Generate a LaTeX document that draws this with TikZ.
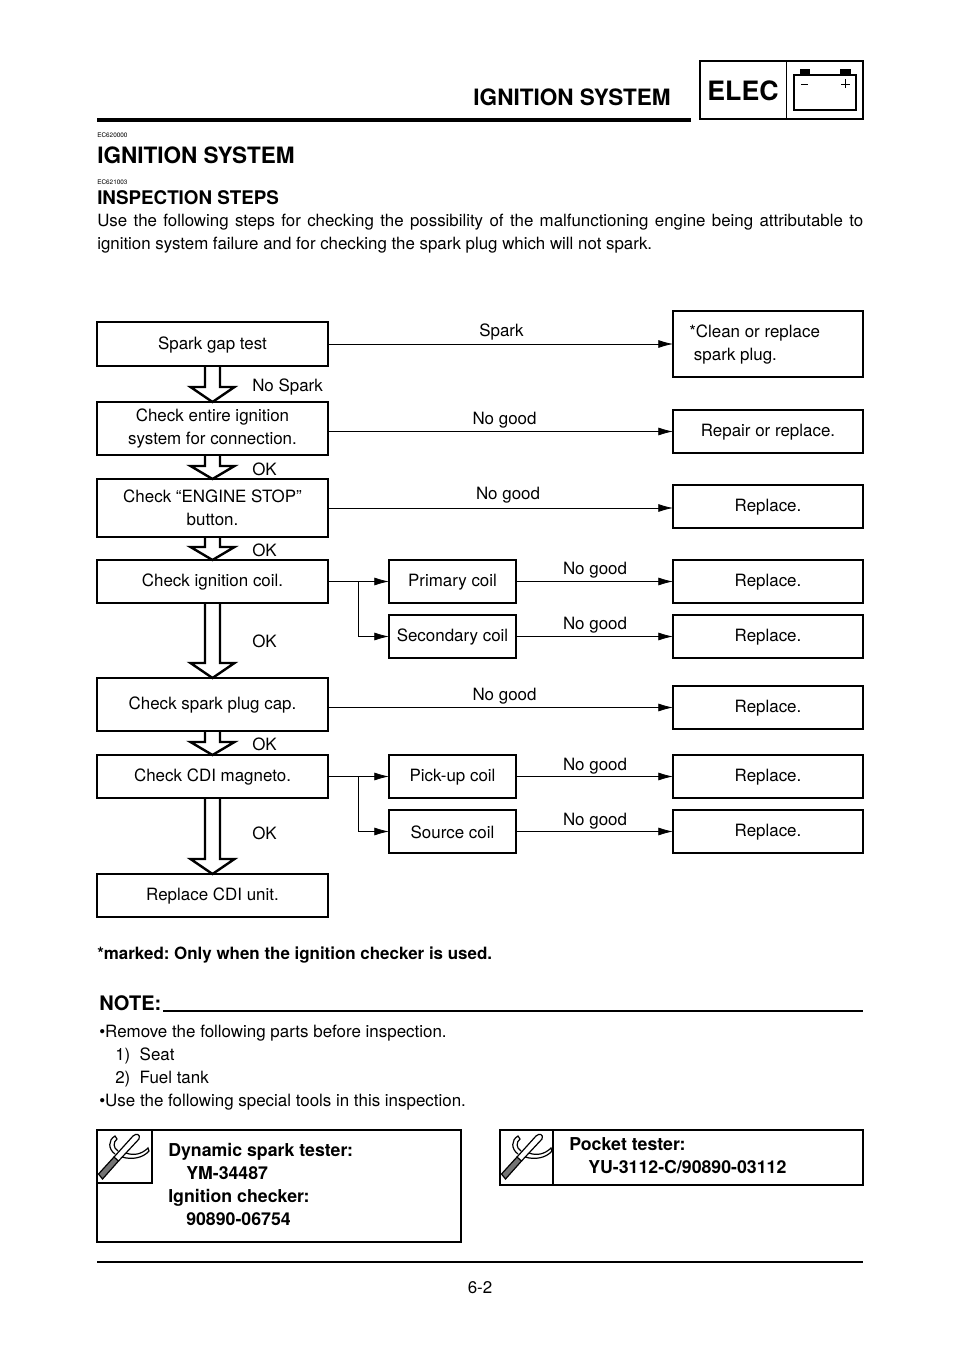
\documentclass[tikz,border=0pt]{standalone}
\usepackage{fontspec}
\setmainfont{TeX Gyre Heros}
\usepackage{tikz}
\usetikzlibrary{positioning, calc, arrows.meta}
\frenchspacing

\tikzset{
  stepbox/.style={draw, line width=1.7pt, inner sep=0pt, outer sep=0pt, align=center, font=\fontsize{12.7}{17.25}\selectfont, execute at begin node={\rule{0pt}{11pt}}},
  wide/.style={stepbox, minimum width=173.25pt},
  part/.style={stepbox, minimum width=95.25pt, minimum height=32.25pt},
  result/.style={stepbox, minimum width=142.5pt, minimum height=32.25pt},
  lab/.style={font=\fontsize{12.7}{17.25}\selectfont, inner sep=0pt},
  txt/.style={font=\fontsize{12.7}{17.25}\selectfont, inner sep=0pt, anchor=base west},
  tool/.style={font=\fontsize{13.3}{17.25}\selectfont\bfseries, inner sep=0pt, anchor=base west},
  tiny/.style={font=\fontsize{4.8}{6}\selectfont, inner sep=0pt, anchor=base west},
  toolbox/.style={draw, line width=1.6pt, anchor=north west, inner sep=0pt, outer sep=0pt},
  conn/.style={line width=0.6pt, -{Latex[length=11pt,width=6pt]}},
  bigarrow/.style={line width=1.8pt, line join=miter},
  rulebar/.style={line width=2.3pt},
  thinbar/.style={line width=1.9pt}
}

% open block arrow between two step boxes
\newcommand{\okarrow}[3]{
  \draw[bigarrow] ($(#1.south)+(-7.5,0)$) -- ($(#2.north)+(-7.5,-#3)$) -- ++(-14.5,0)
    -- (#2.north) -- ($(#2.north)+(22,-#3)$) -- ++(-14.5,0) -- ($(#1.south)+(7.5,0)$);
}
% tester icon with its corner at (#1)
\newcommand{\toolicon}[1]{
  \begin{scope}[shift={(#1)}, line width=0.9pt]
    \draw[fill=black!55] (1.5,44) -- (5.5,49) -- (21.5,31) -- (17,27) -- cycle;
    \draw (17,27) -- (36,6) .. controls (39,3) and (44,4) .. (42,9) -- (21.5,31);
    \draw (18,24) .. controls (11,19) and (11,10) .. (18,6) -- (20,9) .. controls (16,12) and (16,18) .. (21,21);
    \draw (29,23) .. controls (37,26) and (45,24) .. (51,18) -- (52,21) .. controls (46,28) and (35,30) .. (25,27);
  \end{scope}
}

\begin{document}
\begin{tikzpicture}[x=0.75pt, y=-0.75pt]
\useasboundingbox (0,0) rectangle (960,1358);

% header
\node[inner sep=0pt, anchor=base east, font=\fontsize{16.9}{20}\selectfont\bfseries] (head) at (671,106) {IGNITION SYSTEM};
\coordinate (headl) at (97,120);
\coordinate (headr) at (691,120);
\draw[rulebar] (headl) -- (headr);
\node[toolbox, minimum width=122.25pt, minimum height=43.5pt] (elec) at (700,61) {};
\coordinate (divt) at (786,61);
\coordinate (divb) at (786,119);
\draw[line width=0.7pt] (divt) -- (divb);
\node[inner sep=0pt, anchor=base, font=\fontsize{20}{24}\selectfont\bfseries] (electxt) at (743,101) {ELEC};
\draw[line width=1.5pt] (794,75) rectangle (856,110);
\fill (800,69) rectangle (810,75);
\fill (840,69) rectangle (851,75);
\draw[line width=0.6pt] (801,84) -- (808,84);
\draw[line width=0.6pt] (841,84) -- (850,84) (845.5,79.5) -- (845.5,88.5);

% titles
\node[tiny] (code1) at (97,138) {EC620000};
\node[txt, font=\fontsize{16.9}{20}\selectfont\bfseries] (title) at (97,164) {IGNITION SYSTEM};
\node[tiny] (code2) at (97,185) {EC621003};
\node[txt, font=\fontsize{14.1}{17}\selectfont\bfseries] (steps) at (97,205) {INSPECTION STEPS};
\node[inner sep=0pt, anchor=north west, text width=574.5pt, align=justify, font=\fontsize{12.65}{17.25}\selectfont] (intro) at (97,214)
  {Use the following steps for checking the possibility of the malfunctioning engine being attributable to ignition system failure and for checking the spark plug which will not spark.};

% left column
\node[wide, minimum height=33pt] (gap) at (212.5,344) {Spark gap test};
\node[wide, minimum height=39.75pt] (entire) at (212.5,428.5) {Check entire ignition\\system for connection.};
\node[wide, minimum height=43.5pt] (stop) at (212.5,508) {Check “ENGINE STOP”\\button.};
\node[wide, minimum height=32.25pt] (coil) at (212.5,581.5) {Check ignition coil.};
\node[wide, minimum height=39.75pt] (cap) at (212.5,704.5) {Check spark plug cap.};
\node[wide, minimum height=32.25pt] (magneto) at (212.5,776.5) {Check CDI magneto.};
\node[wide, minimum height=32.25pt] (cdi) at (212.5,895.5) {Replace CDI unit.};

% middle column
\node[part] (primary) at (452.5,581.5) {Primary coil};
\node[part] (secondary) at (452.5,636.5) {Secondary coil};
\node[part] (pickup) at (452.5,776.5) {Pick-up coil};
\node[part] (source) at (452.5,831.5) {Source coil};

% right column
\node[result, minimum height=49.5pt] (clean) at (768,344) {};
\node[lab, align=left, anchor=west] (cleantxt) at (689,345) {*Clean or replace\\\ spark plug.};
\node[result] (repair) at (768,431.5) {Repair or replace.};
\node[result] (rep1) at (768,506.5) {Replace.};
\node[result] (rep2) at (768,581.5) {Replace.};
\node[result] (rep3) at (768,636.5) {Replace.};
\node[result] (rep4) at (768,707.5) {Replace.};
\node[result] (rep5) at (768,776.5) {Replace.};
\node[result] (rep6) at (768,831.5) {Replace.};

% block arrows
\okarrow{gap}{entire}{15}
\okarrow{entire}{stop}{13}
\okarrow{stop}{coil}{13}
\okarrow{coil}{cap}{15}
\okarrow{cap}{magneto}{13}
\okarrow{magneto}{cdi}{15}

% connectors
\draw[conn] (gap.east) -- (clean.west);
\draw[conn] (entire.east |- repair.west) -- (repair.west);
\draw[conn] (stop.east) -- (rep1.west |- stop.east);
\draw[conn] (cap.east |- rep4.west) -- (rep4.west);
\draw[conn] (coil.east) -- (primary.west);
\coordinate (branch1) at (358,581.5);
\draw[conn] (branch1) |- (secondary.west);
\draw[conn] (magneto.east) -- (pickup.west);
\coordinate (branch2) at (358,776.5);
\draw[conn] (branch2) |- (source.west);
\draw[conn] (primary.east) -- (rep2.west);
\draw[conn] (secondary.east) -- (rep3.west);
\draw[conn] (pickup.east) -- (rep5.west);
\draw[conn] (source.east) -- (rep6.west);

% labels
\node[lab] (l1) at (501.5,332) {Spark};
\node[lab, anchor=west] (l2) at (252,387) {No Spark};
\node[lab] (l3) at (504.5,420) {No good};
\node[lab, anchor=west] (l4) at (252,469.5) {OK};
\node[lab] (l5) at (508,495.5) {No good};
\node[lab, anchor=west] (l6) at (252,550) {OK};
\node[lab] (l7) at (595,570.5) {No good};
\node[lab] (l8) at (595,625.5) {No good};
\node[lab, anchor=west] (l9) at (252,641) {OK};
\node[lab] (l10) at (504.5,696) {No good};
\node[lab, anchor=west] (l11) at (252,744.5) {OK};
\node[lab] (l12) at (595,766) {No good};
\node[lab] (l13) at (595,821) {No good};
\node[lab, anchor=west] (l14) at (252,833.5) {OK};

% notes
\node[txt, font=\fontsize{12.7}{17.25}\selectfont\bfseries] (marked) at (97,959) {*marked: Only when the ignition checker is used.};
\node[txt, font=\fontsize{15}{18}\selectfont\bfseries] (note) at (99,1010) {NOTE:};
\coordinate (notel) at (163,1011);
\coordinate (noter) at (863,1011);
\draw[thinbar] (notel) -- (noter);
\node[txt] (n1) at (99,1037) {\textbullet Remove the following parts before inspection.};
\node[txt] (n2) at (115,1060) {1)\ \ Seat};
\node[txt] (n3) at (115,1083) {2)\ \ Fuel tank};
\node[txt] (n4) at (99,1106) {\textbullet Use the following special tools in this inspection.};

% tool boxes
\node[toolbox, minimum width=273pt, minimum height=84pt] (tool1) at (97,1130) {};
\draw[line width=0.9pt] (97,1130) rectangle (152,1183);
\toolicon{97,1130}
\node[tool] (t1) at (168,1156) {Dynamic spark tester:};
\node[tool] (t2) at (186,1179) {YM-34487};
\node[tool] (t3) at (168,1202) {Ignition checker:};
\node[tool] (t4) at (186,1225) {90890-06754};
\node[toolbox, minimum width=272.25pt, minimum height=41.25pt] (tool2) at (500,1130) {};
\draw[line width=0.9pt] (500,1130) rectangle (553,1185);
\toolicon{500,1130}
\node[tool] (t5) at (569,1150) {Pocket tester:};
\node[tool] (t6) at (588,1173) {YU-3112-C/90890-03112};

% footer
\coordinate (footl) at (97,1262);
\coordinate (footr) at (863,1262);
\draw[thinbar] (footl) -- (footr);
\node[lab, anchor=base] (page) at (480,1293) {6-2};
\end{tikzpicture}
\end{document}
